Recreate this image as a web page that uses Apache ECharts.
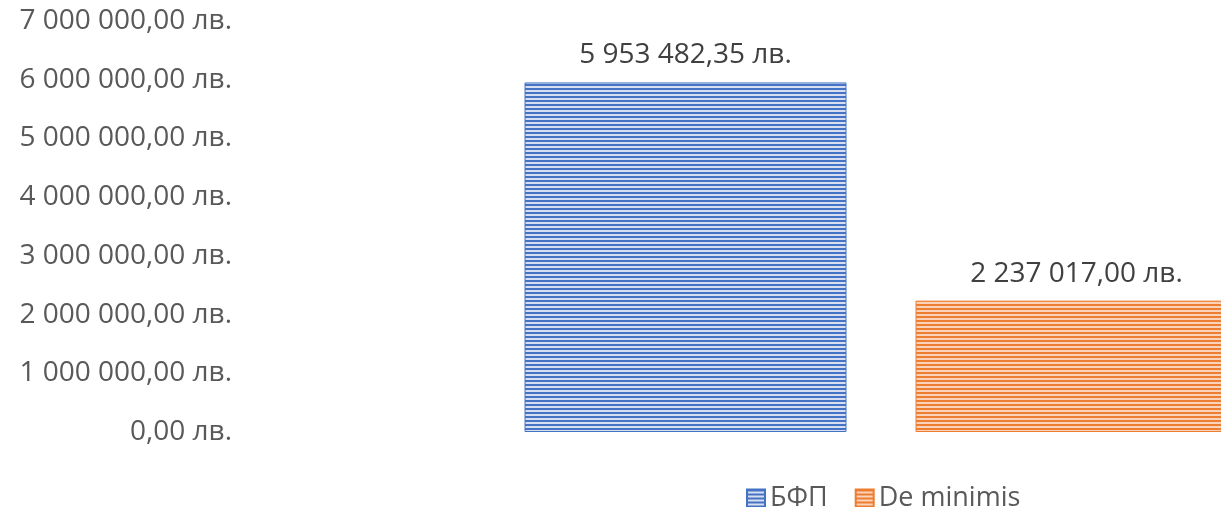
<!DOCTYPE html>
<html>
<head>
<meta charset="utf-8">
<script src="https://cdn.jsdelivr.net/npm/echarts@6/dist/echarts.min.js"></script>
<style>
html,body{margin:0;padding:0;background:#fff;}
#c{width:1221px;height:507px;}
</style>
</head>
<body>
<div id="c"></div>
<script>
const categories = ['БФП', 'De minimis'];
const seriesNames = ['БФП', 'De minimis'];
const bfpValues = [5953482.35, '-'];
const deminimisValues = ['-', 2237017.00];
const yTicks = [0, 1000000, 2000000, 3000000, 4000000, 5000000, 6000000, 7000000];

function fmt(v) {
  const s = Number(v).toFixed(2).split('.');
  const int = s[0].replace(/\B(?=(\d{3})+(?!\d))/g, ' ');
  return int + ',' + s[1] + ' лв.';
}
function stripe(c1, c2) {
  const cv = document.createElement('canvas');
  cv.width = 4; cv.height = 4;
  const ctx = cv.getContext('2d');
  ctx.fillStyle = c2; ctx.fillRect(0, 0, 4, 4);
  ctx.fillStyle = c1; ctx.fillRect(0, 0, 4, 2);
  return cv;
}
const blue = { image: stripe('#4472C4', '#D6DEEF'), repeat: 'repeat' };
const orange = { image: stripe('#ED7D31', '#FAD3BA'), repeat: 'repeat' };
const font = '"Open Sans", "Noto Sans", sans-serif';

const chart = echarts.init(document.getElementById('c'));
chart.setOption({
  backgroundColor: '#ffffff',
  animation: false,
  textStyle: { fontFamily: font },
  grid: { left: 490, top: 21, width: 782, height: 411, containLabel: false, outerBoundsMode: 'none' },
  legend: {
    left: 741, top: 480, icon: 'rect',
    itemWidth: 18, itemHeight: 18, itemGap: 27,
    textStyle: { fontSize: 27, color: '#595959', fontFamily: font },
    data: seriesNames
  },
  xAxis: {
    type: 'category', data: categories,
    axisLine: { show: false }, axisTick: { show: false }, axisLabel: { show: false }
  },
  yAxis: {
    type: 'value', min: yTicks[0], max: yTicks[yTicks.length - 1], interval: yTicks[1] - yTicks[0],
    splitLine: { show: false }, axisLine: { show: false }, axisTick: { show: false },
    axisLabel: { margin: 258, fontSize: 28, color: '#595959', fontFamily: font, formatter: fmt }
  },
  series: [
    {
      name: seriesNames[0], type: 'bar', data: bfpValues, barWidth: 322, barGap: '-100%',
      itemStyle: { color: blue, borderColor: '#4472C4', borderWidth: 1 },
      label: { show: true, position: 'top', distance: 13, fontSize: 28, color: '#404040', fontFamily: font,
        formatter: p => fmt(p.value) }
    },
    {
      name: seriesNames[1], type: 'bar', data: deminimisValues, barWidth: 322, barGap: '-100%',
      itemStyle: { color: orange, borderColor: '#ED7D31', borderWidth: 1 },
      label: { show: true, position: 'top', distance: 13, fontSize: 28, color: '#404040', fontFamily: font,
        formatter: p => fmt(p.value) }
    }
  ]
});
</script>
</body>
</html>
